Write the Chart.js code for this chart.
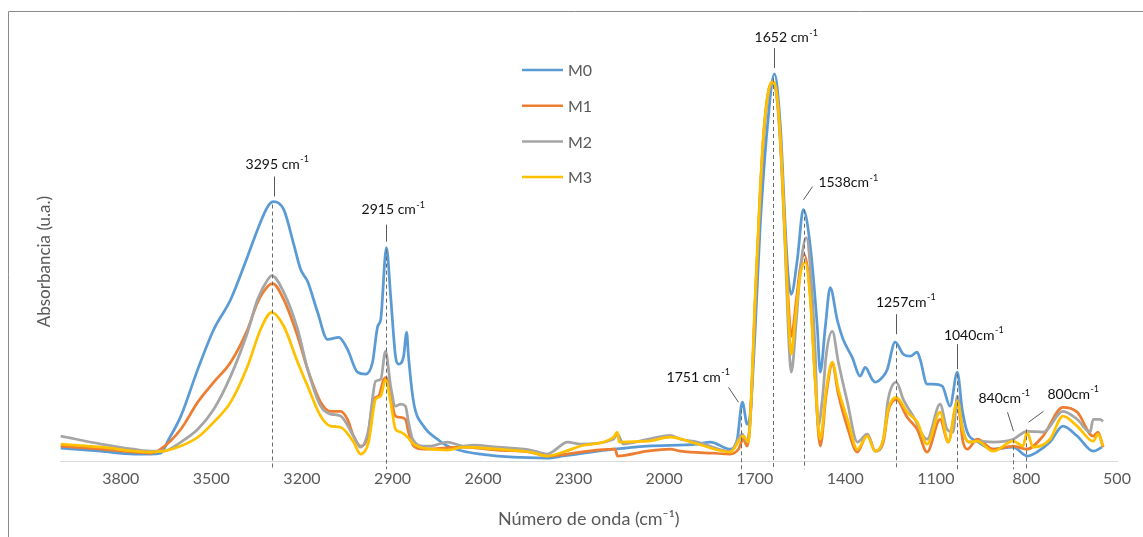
<!DOCTYPE html>
<html>
<head>
<meta charset="utf-8">
<script src="https://cdn.jsdelivr.net/npm/chart.js@4.4.1/dist/chart.umd.min.js"></script>
<style>
  html, body { margin: 0; padding: 0; background: #fff; }
  #wrap { position: relative; width: 1143px; height: 537px; }
</style>
</head>
<body>
<div id="wrap"><canvas id="myChart"></canvas></div>
<script>
const seriesNames = ['M0', 'M1', 'M2', 'M3'];
const seriesColors = ['#5B9BD5', '#ED7D31', '#A5A5A5', '#FFC000'];
const tickLabels = [3800, 3500, 3200, 2900, 2600, 2300, 2000, 1700, 1400, 1100, 800, 500];

// [wavenumber (cm-1), absorbance]
const m0Points = [[3999,0.033],[3866,0.025],[3757,0.018],[3701,0.018],[3668,0.020],[3641,0.055],[3601,0.113],[3545,0.230],[3492,0.330],[3436,0.405],[3380,0.513],[3347,0.580],[3313,0.638],[3294,0.650],[3260,0.630],[3227,0.543],[3204,0.480],[3181,0.450],[3148,0.373],[3115,0.305],[3078,0.310],[3049,0.280],[3016,0.223],[2989,0.218],[2966,0.248],[2949,0.338],[2939,0.355],[2920,0.535],[2906,0.413],[2890,0.263],[2880,0.243],[2863,0.263],[2853,0.323],[2847,0.263],[2830,0.148],[2797,0.088],[2751,0.055],[2718,0.038],[2665,0.025],[2608,0.018],[2499,0.010],[2387,0.008],[2334,0.013],[2168,0.030],[2056,0.038],[1890,0.043],[1847,0.048],[1781,0.030],[1758,0.055],[1741,0.148],[1725,0.093],[1715,0.118],[1698,0.338],[1682,0.588],[1658,0.838],[1635,0.970],[1615,0.838],[1599,0.588],[1589,0.463],[1579,0.418],[1559,0.505],[1539,0.630],[1516,0.538],[1493,0.338],[1483,0.223],[1466,0.338],[1450,0.435],[1427,0.355],[1407,0.305],[1377,0.260],[1351,0.213],[1334,0.235],[1311,0.205],[1301,0.198],[1274,0.213],[1261,0.230],[1235,0.298],[1208,0.268],[1185,0.263],[1162,0.273],[1152,0.255],[1129,0.193],[1109,0.193],[1079,0.188],[1053,0.138],[1029,0.223],[1013,0.130],[996,0.073],[963,0.050],[910,0.030],[844,0.035],[798,0.013],[765,0.023],[722,0.048],[679,0.088],[632,0.063],[579,0.025],[550,0.035]];

const m1Points = [[3999,0.038],[3866,0.030],[3757,0.023],[3701,0.020],[3668,0.030],[3601,0.080],[3545,0.148],[3492,0.198],[3436,0.248],[3380,0.330],[3347,0.398],[3313,0.438],[3297,0.445],[3260,0.405],[3214,0.313],[3181,0.230],[3138,0.148],[3105,0.125],[3072,0.125],[3049,0.105],[3029,0.063],[3006,0.038],[2982,0.063],[2963,0.155],[2946,0.163],[2929,0.205],[2920,0.210],[2906,0.163],[2890,0.113],[2873,0.110],[2857,0.105],[2847,0.073],[2830,0.038],[2797,0.030],[2665,0.035],[2552,0.028],[2443,0.023],[2387,0.013],[2277,0.023],[2168,0.030],[2162,0.030],[2155,0.013],[2056,0.025],[1980,0.030],[1946,0.025],[1837,0.020],[1781,0.018],[1754,0.030],[1738,0.055],[1725,0.038],[1715,0.105],[1698,0.405],[1682,0.668],[1669,0.830],[1655,0.925],[1642,0.950],[1628,0.923],[1615,0.805],[1599,0.555],[1589,0.405],[1579,0.313],[1562,0.405],[1549,0.485],[1536,0.518],[1516,0.418],[1500,0.205],[1483,0.038],[1463,0.168],[1443,0.243],[1423,0.168],[1393,0.085],[1360,0.023],[1327,0.068],[1301,0.025],[1274,0.048],[1258,0.125],[1231,0.155],[1195,0.110],[1162,0.080],[1129,0.023],[1086,0.105],[1059,0.048],[1029,0.148],[1010,0.048],[996,0.030],[963,0.055],[910,0.030],[844,0.038],[798,0.030],[745,0.063],[679,0.135],[632,0.123],[579,0.063],[563,0.073],[546,0.035]];

const m2Points = [[3999,0.063],[3866,0.043],[3757,0.030],[3691,0.025],[3661,0.025],[3601,0.048],[3545,0.080],[3492,0.130],[3436,0.213],[3380,0.323],[3347,0.405],[3313,0.455],[3300,0.465],[3260,0.423],[3214,0.330],[3181,0.230],[3138,0.138],[3105,0.118],[3072,0.113],[3029,0.063],[3006,0.035],[2979,0.080],[2956,0.200],[2939,0.205],[2923,0.275],[2906,0.188],[2890,0.138],[2873,0.143],[2857,0.138],[2847,0.098],[2833,0.055],[2797,0.038],[2774,0.038],[2718,0.048],[2665,0.038],[2632,0.040],[2552,0.035],[2443,0.028],[2387,0.018],[2367,0.025],[2320,0.048],[2277,0.043],[2168,0.055],[2155,0.068],[2135,0.043],[2056,0.055],[1980,0.065],[1946,0.055],[1890,0.048],[1781,0.025],[1741,0.068],[1728,0.050],[1715,0.100],[1698,0.405],[1682,0.668],[1669,0.830],[1655,0.923],[1642,0.945],[1628,0.918],[1615,0.793],[1599,0.530],[1589,0.330],[1579,0.223],[1562,0.355],[1549,0.480],[1529,0.560],[1513,0.455],[1500,0.280],[1490,0.088],[1476,0.155],[1463,0.268],[1443,0.325],[1423,0.248],[1393,0.148],[1360,0.048],[1327,0.068],[1301,0.025],[1274,0.055],[1258,0.155],[1231,0.198],[1208,0.155],[1175,0.113],[1129,0.055],[1086,0.143],[1063,0.080],[1043,0.073],[1029,0.163],[1013,0.088],[993,0.048],[963,0.050],[910,0.048],[844,0.055],[798,0.075],[745,0.073],[679,0.125],[632,0.105],[589,0.073],[579,0.105],[556,0.105],[546,0.100]];

const m3Points = [[3999,0.043],[3866,0.035],[3701,0.023],[3658,0.025],[3601,0.038],[3545,0.060],[3492,0.098],[3436,0.148],[3380,0.238],[3337,0.330],[3300,0.373],[3260,0.338],[3214,0.248],[3181,0.188],[3138,0.113],[3105,0.088],[3072,0.085],[3029,0.048],[3006,0.018],[2979,0.048],[2956,0.155],[2939,0.163],[2923,0.205],[2906,0.148],[2890,0.080],[2873,0.073],[2850,0.060],[2830,0.043],[2774,0.030],[2718,0.028],[2665,0.035],[2552,0.030],[2443,0.023],[2387,0.013],[2334,0.023],[2277,0.038],[2168,0.060],[2155,0.073],[2149,0.048],[2056,0.050],[1980,0.060],[1890,0.043],[1781,0.023],[1738,0.063],[1721,0.048],[1715,0.105],[1698,0.423],[1682,0.680],[1669,0.838],[1655,0.925],[1642,0.950],[1628,0.925],[1615,0.805],[1599,0.548],[1589,0.373],[1579,0.268],[1566,0.355],[1549,0.468],[1533,0.498],[1516,0.405],[1500,0.205],[1483,0.055],[1463,0.180],[1443,0.248],[1423,0.180],[1393,0.105],[1360,0.030],[1327,0.063],[1301,0.025],[1274,0.055],[1258,0.130],[1231,0.160],[1195,0.123],[1162,0.098],[1129,0.043],[1086,0.123],[1059,0.048],[1029,0.150],[1010,0.073],[987,0.048],[963,0.050],[910,0.025],[844,0.050],[811,0.038],[798,0.073],[778,0.035],[722,0.055],[679,0.113],[632,0.088],[579,0.050],[563,0.068],[546,0.038]];

// peak labels
const peakText = ['3295 cm', '2915 cm', '1652 cm', '1538cm', '1257cm', '1040cm', '1751 cm', '840cm', '800cm'];
const peakWn = [3300, 2920, 1639, 1536, 1231, 1030, 1745, 844, 801];
const peakTop = [0.643, 0.530, 0.960, 0.630, 0.293, 0.218, 0.130, 0.055, 0.080];

// label placement relative to the peak (px): text centre, leader line
const peakLayout = [
  { tx: 4.5, ty: -40, l: [2, -28, 2, -8] },
  { tx: 6.5, ty: -40, l: [0, -25, 0, -8] },
  { tx: 12.5, ty: -40, l: [1, -30, 1, -10] },
  { tx: 43.5, ty: -27, l: [8, -23, -1, -10] },
  { tx: 9, ty: -42, l: [0, -30, 0, -10] },
  { tx: 16, ty: -39, l: [0, -30, 0, -5] },
  { tx: -43.5, ty: -32, l: [-13, -22, -3, -7] },
  { tx: -9.5, ty: -41, l: [-6, -27, 0, -8] },
  { tx: 46.5, ty: -35, l: [17, -18, 2, -7] }
];

const allPoints = [m0Points, m1Points, m2Points, m3Points];

const framePlugin = {
  id: 'frame',
  beforeDraw(chart) {
    const ctx = chart.ctx;
    ctx.save();
    ctx.fillStyle = '#fff';
    ctx.fillRect(0, 0, chart.width, chart.height);
    ctx.strokeStyle = '#8c8c8c';
    ctx.lineWidth = 1;
    ctx.beginPath();
    ctx.moveTo(8.5, chart.height);
    ctx.lineTo(8.5, 11.5);
    ctx.lineTo(chart.width, 11.5);
    ctx.stroke();
    ctx.restore();
  }
};

function drawSup(ctx, text, sup, cx, cy) {
  ctx.font = '14px Lato';
  const w1 = ctx.measureText(text).width;
  ctx.font = '9px Lato';
  const w2 = ctx.measureText(sup).width;
  const x0 = cx - (w1 + w2) / 2;
  ctx.fillStyle = '#111';
  ctx.textBaseline = 'middle';
  ctx.textAlign = 'left';
  ctx.font = '14px Lato';
  ctx.fillText(text, x0, cy);
  ctx.font = '9px Lato';
  ctx.fillText(sup, x0 + w1 + 0.5, cy - 5);
}

const peakPlugin = {
  id: 'peaks',
  afterDatasetsDraw(chart) {
    const ctx = chart.ctx;
    const xs = chart.scales.x, ys = chart.scales.y;
    const base = ys.getPixelForValue(0);
    ctx.save();
    peakWn.forEach((wn, i) => {
      const x = Math.round(xs.getPixelForValue(wn)) + 0.5;
      const y = ys.getPixelForValue(peakTop[i]);
      const lay = peakLayout[i];
      ctx.setLineDash([4, 3]);
      ctx.strokeStyle = '#6b6b6b';
      ctx.lineWidth = 1;
      ctx.beginPath();
      ctx.moveTo(x, y);
      ctx.lineTo(x, base + 8);
      ctx.stroke();
      ctx.setLineDash([]);
      ctx.strokeStyle = '#595959';
      ctx.beginPath();
      ctx.moveTo(x + lay.l[0], y + lay.l[1]);
      ctx.lineTo(x + lay.l[2], y + lay.l[3]);
      ctx.stroke();
      drawSup(ctx, peakText[i], '-1', x + lay.tx, y + lay.ty);
    });
    ctx.restore();
  }
};

const legendPlugin = {
  id: 'sideLegend',
  afterDraw(chart) {
    const ctx = chart.ctx;
    ctx.save();
    chart.data.datasets.forEach((ds, i) => {
      const y = 70 + i * 35.7;
      ctx.strokeStyle = ds.borderColor;
      ctx.lineWidth = 2.5;
      ctx.beginPath();
      ctx.moveTo(522, y);
      ctx.lineTo(563, y);
      ctx.stroke();
      ctx.fillStyle = '#595959';
      ctx.font = '16px Lato';
      ctx.textBaseline = 'middle';
      ctx.fillText(ds.label, 568, y + 1);
    });
    ctx.restore();
  }
};

const datasets = seriesNames.map((name, i) => ({
  label: name,
  data: allPoints[i].map(p => ({ x: p[0], y: p[1] })),
  borderColor: seriesColors[i],
  backgroundColor: seriesColors[i],
  borderWidth: 2.75,
  pointRadius: 0,
  cubicInterpolationMode: 'monotone',
  clip: false,
  order: seriesNames.length - i
}));

const ctx = document.getElementById('myChart').getContext('2d');

const config = {
  type: 'line',
  data: { datasets: datasets },
  options: {
    responsive: true,
    maintainAspectRatio: false,
    animation: false,
    layout: {
      padding: { left: 30, right: 26, top: 62, bottom: 7 }
    },
    plugins: {
      legend: { display: false },
      tooltip: { enabled: false }
    },
    scales: {
      x: {
        type: 'linear',
        reverse: true,
        min: 500,
        max: 4000,
        afterBuildTicks: (scale) => {
          scale.ticks = tickLabels.map(v => ({ value: v }));
        },
        grid: { display: false, drawTicks: false },
        border: { display: true, color: '#d9d9d9', width: 1 },
        ticks: {
          color: '#595959',
          font: { family: 'Lato', size: 16 },
          padding: 8,
          maxRotation: 0,
          autoSkip: false,
          callback: (v) => String(v)
        },
        title: {
          display: true,
          text: 'Número de onda (cm⁻¹)',
          color: '#595959',
          font: { family: 'Lato', size: 18 },
          padding: { top: 12, bottom: 0 }
        }
      },
      y: {
        min: 0,
        max: 1,
        grid: { display: false, drawTicks: false },
        border: { display: false },
        ticks: { display: false },
        title: {
          display: true,
          text: 'Absorbancia (u.a.)',
          color: '#595959',
          font: { family: 'Lato', size: 17 },
          padding: { top: 4, bottom: 6 }
        }
      }
    }
  },
  plugins: [framePlugin, peakPlugin, legendPlugin]
};

const myChart = new Chart(ctx, config);
</script>
</body>
</html>
